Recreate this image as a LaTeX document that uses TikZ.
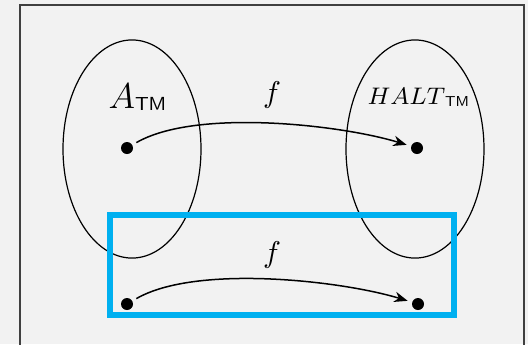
\documentclass[tikz,border=0pt]{standalone}
\usetikzlibrary{shapes.geometric,arrows.meta}
\definecolor{bggray}{HTML}{F2F2F2}
\definecolor{framegray}{HTML}{404040}
\definecolor{boxblue}{HTML}{00B0F0}
\tikzset{
  setshape/.style={draw, ellipse, line width=0.4pt, minimum width=46pt, minimum height=72.7pt, inner sep=0pt},
  elemdot/.style={circle, fill=black, inner sep=0pt, minimum size=4pt, outer sep=1.6pt},
  maparrow/.style={-{Stealth[length=4.5pt,width=3.5pt]}, line width=0.5pt, out=30, in=163, looseness=0.65},
  lbl/.style={inner sep=0pt}
}
\begin{document}
\begin{tikzpicture}[x=0.33333pt,y=-0.33333pt]
\useasboundingbox (0,0) rectangle (528,344);
\clip (0,0) rectangle (528,344);
\fill[bggray] (0,0) rectangle (528,344);
\draw[framegray, line width=0.5pt] (20,360) -- (20,5) -- (524,5) -- (524,360);
\node[setshape] (setA) at (132,149) {};
\node[setshape] (setH) at (415,149) {};
\draw[boxblue, line width=2pt] (110,215) rectangle (454,315);
\node[elemdot] (a1) at (127,148) {};
\node[elemdot] (h1) at (417,148) {};
\node[elemdot] (a2) at (127,304) {};
\node[elemdot] (h2) at (418,304) {};
\node[lbl, anchor=base west] (labA) at (108,108) {\fontsize{12.5}{14}\selectfont $A$\raisebox{-0.9pt}{\fontsize{6.3}{7}\selectfont\sffamily TM}};
\node[lbl, anchor=base west] (labH) at (367,104) {\fontsize{7.8}{9}\selectfont $HALT$\raisebox{-0.7pt}{\fontsize{4.8}{6}\selectfont\sffamily TM}};
\node[lbl, anchor=base] (f1) at (272,102) {$f$};
\node[lbl, anchor=base] (f2) at (272,262) {$f$};
\draw[maparrow] (a1) to (h1);
\draw[maparrow] (a2) to (h2);
\end{tikzpicture}
\end{document}
